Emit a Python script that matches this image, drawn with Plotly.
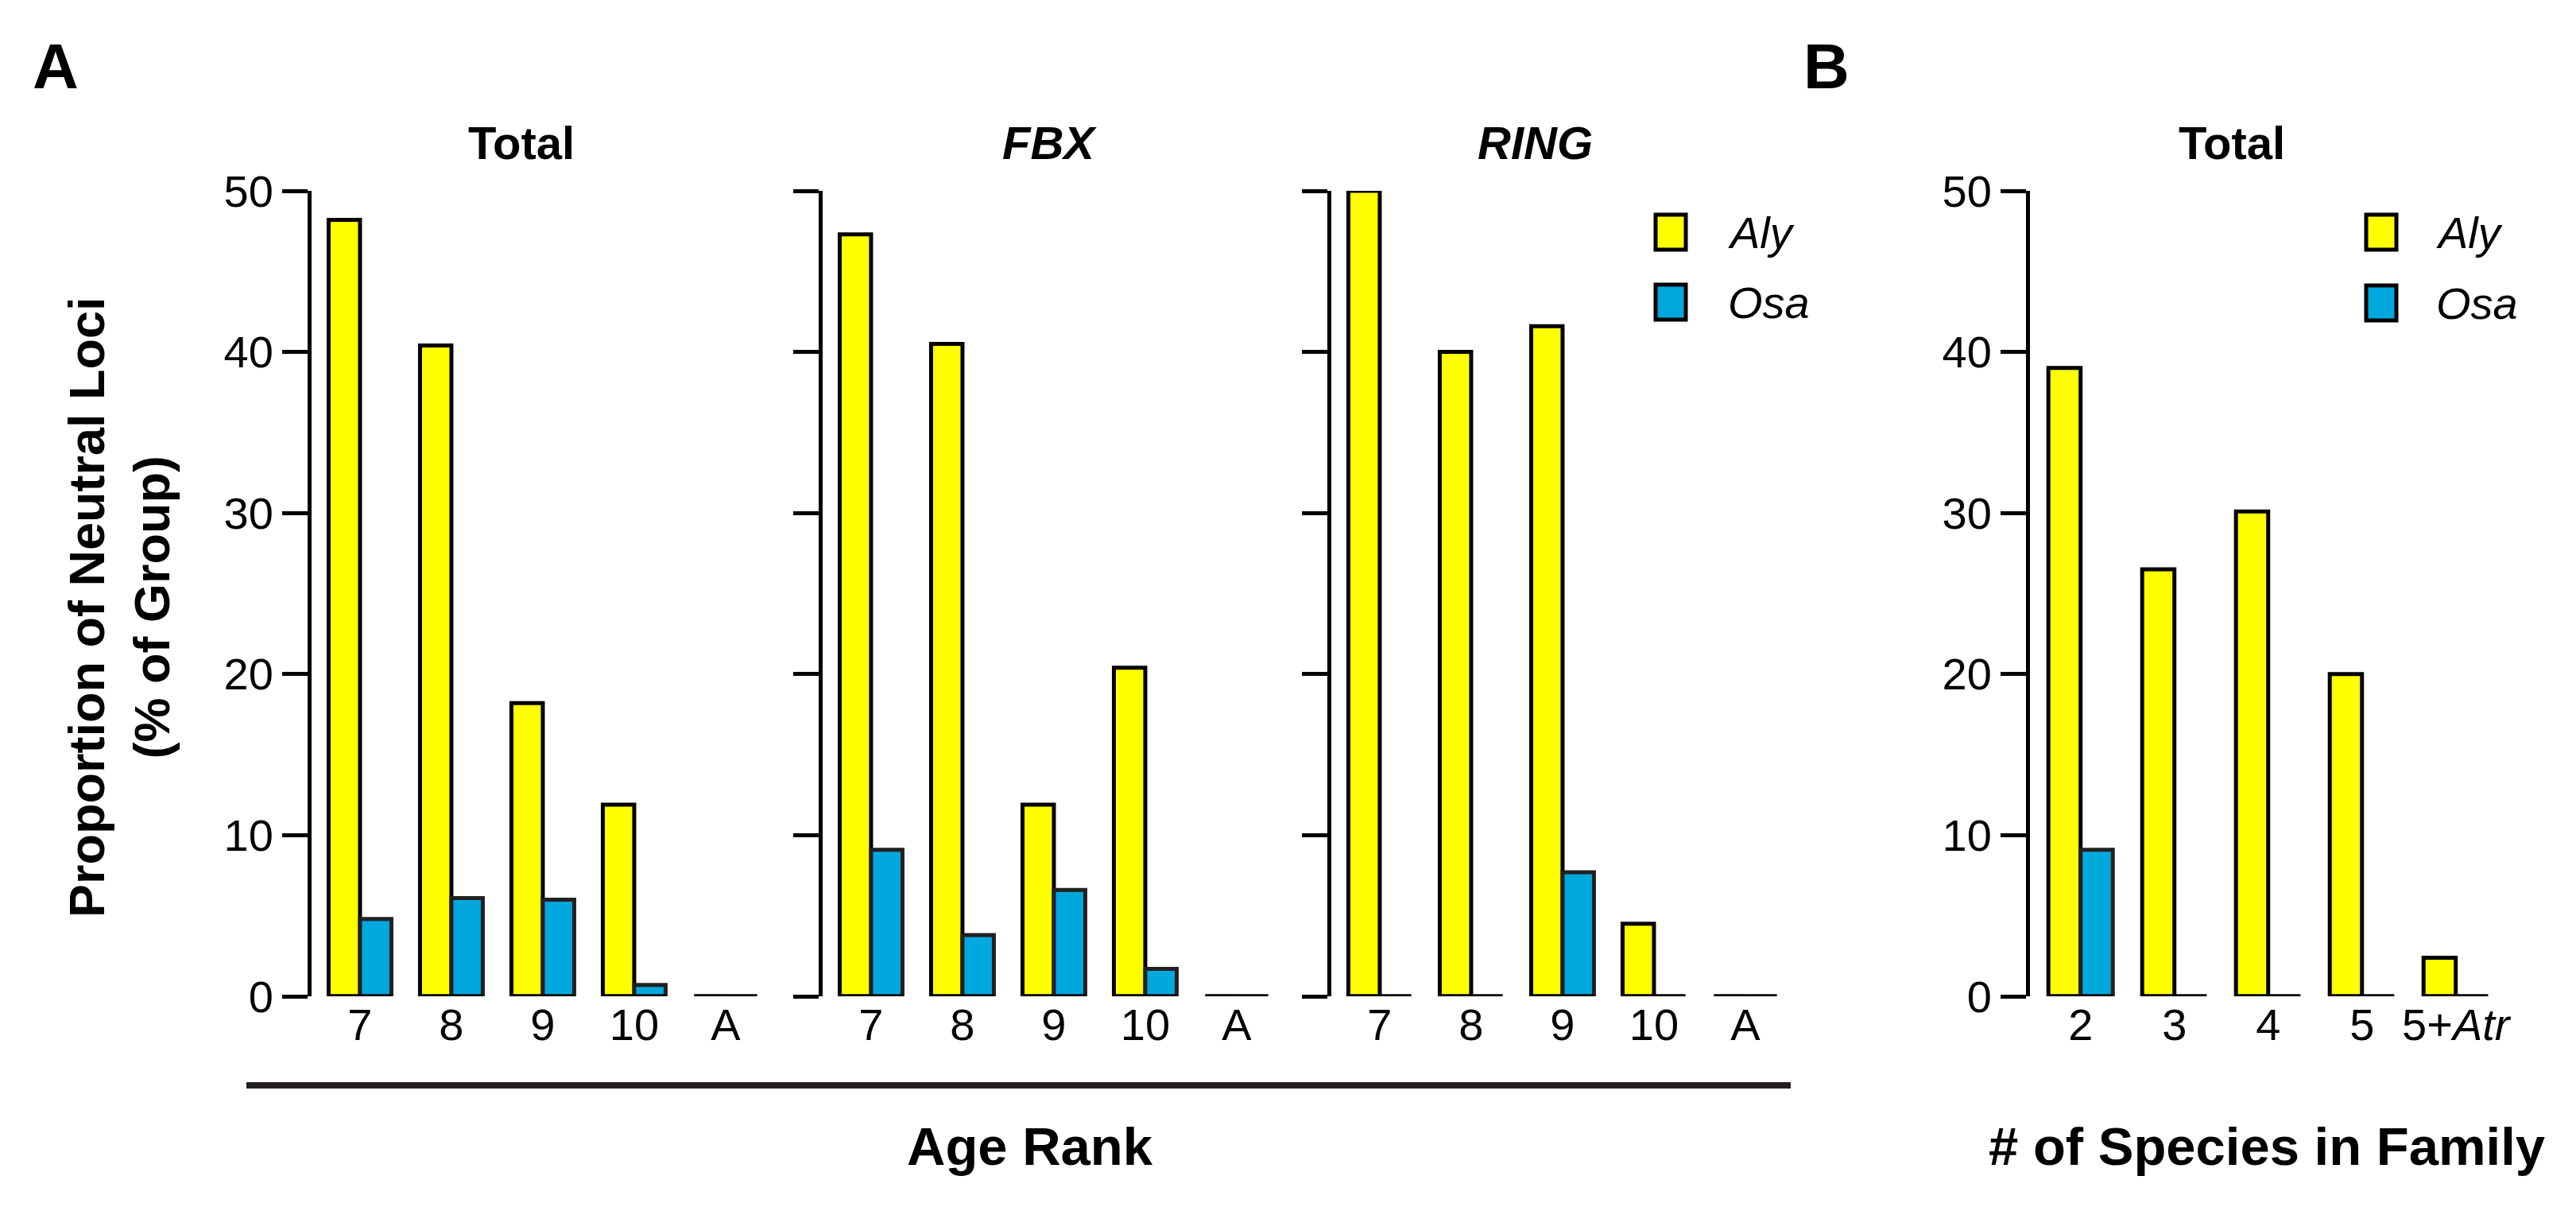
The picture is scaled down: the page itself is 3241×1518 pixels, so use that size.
import plotly.graph_objects as go

# ---------------- data ----------------
age_ranks = ["7", "8", "9", "10", "A"]
total_aly = [48.2, 40.4, 18.2, 11.9, 0]
total_osa = [4.8, 6.1, 6.0, 0.7, 0]
fbx_aly = [47.3, 40.5, 11.9, 20.4, 0]
fbx_osa = [9.1, 3.8, 6.6, 1.7, 0]
ring_aly = [50.0, 40.0, 41.6, 4.5, 0]
ring_osa = [0, 0, 7.7, 0, 0]

species_cats = ["2", "3", "4", "5", "5+<i>Atr</i>"]
species_aly = [39.0, 26.5, 30.1, 20.0, 2.4]
species_osa = [9.1, 0, 0, 0, 0]

y_ticks = [0, 10, 20, 30, 40, 50]

# ---------------- style ----------------
W, H = 3241, 1518
OFF = 8  # page body margin offset
YELLOW = "#FFFF00"
BLUE = "#00A8DE"
DARK = "#231F20"
FONT = "Liberation Sans, Arial, Helvetica, sans-serif"
LW = 5
BARGAP = 0.313
TICKSIZE = 56


def px(x):
    return (x - OFF) / W


def py(y):
    return 1 - (y - OFF) / H


y_dom = [py(1253), py(240)]

panels = [
    ("", age_ranks, total_aly, total_osa, 392, 115, [-0.53, 4.42], "<b>Total</b>", 656, True),
    ("2", age_ranks, fbx_aly, fbx_osa, 1035, 115, [-0.53, 4.42], "<b><i>FBX</i></b>", 1320, False),
    ("3", age_ranks, ring_aly, ring_osa, 1675, 115, [-0.53, 4.42], "<b><i>RING</i></b>", 1931, False),
    ("4", species_cats, species_aly, species_osa, 2554, 118, [-0.54, 4.45], "<b>Total</b>", 2808, True),
]

fig = go.Figure()
layout = dict(
    width=W, height=H,
    margin=dict(l=0, r=0, t=0, b=0, autoexpand=False),
    paper_bgcolor="white", plot_bgcolor="white",
    barmode="group", bargap=BARGAP, bargroupgap=0,
    showlegend=False,
    font=dict(family=FONT, color="black", size=TICKSIZE),
)

annotations = []
shapes = []

half = (1 - BARGAP) / 2
for suf, cats, aly, osa, left, ppu, rng, title, tx, show_y in panels:
    xa = "x" + suf
    ya = "y" + suf
    pos = list(range(len(cats)))
    fig.add_trace(go.Bar(x=pos, y=aly, xaxis=xa, yaxis=ya, name="Aly",
                         marker=dict(color=YELLOW, line=dict(color="black", width=LW)),
                         cliponaxis=False))
    fig.add_trace(go.Bar(x=pos, y=osa, xaxis=xa, yaxis=ya, name="Osa",
                         marker=dict(color=BLUE, line=dict(color=DARK, width=LW)),
                         cliponaxis=False))
    bx, by = [], []
    for p in pos:
        bx += [p - half, p + half, None]
        by += [0, 0, None]
    fig.add_trace(go.Scatter(x=bx, y=by, xaxis=xa, yaxis=ya, mode="lines",
                             line=dict(color="black", width=LW), cliponaxis=False,
                             hoverinfo="skip"))

    width_px = (rng[1] - rng[0]) * ppu
    layout["xaxis" + suf] = dict(
        domain=[px(left), px(left + width_px)], range=rng, anchor=ya,
        tickvals=pos, ticktext=cats, showline=False, showgrid=False, zeroline=False,
        ticks="", tickfont=dict(size=TICKSIZE, family=FONT, color="black"),
        ticklabelstandoff=-2, automargin=False,
    )
    layout["yaxis" + suf] = dict(
        domain=y_dom, range=[0, 50], anchor=xa,
        tickvals=y_ticks, showticklabels=show_y,
        showline=True, linecolor="black", linewidth=LW,
        ticks="outside", ticklen=32, tickwidth=LW, tickcolor="black",
        showgrid=False, zeroline=False, automargin=False,
        tickfont=dict(size=TICKSIZE, family=FONT, color="black"),
    )
    annotations.append(dict(text=title, x=px(tx), y=py(179), xref="paper", yref="paper",
                            showarrow=False, xanchor="center", yanchor="middle",
                            font=dict(size=58, family=FONT, color="black")))

annotations.append(dict(text="<b>A</b>", x=px(70), y=py(83), xref="paper", yref="paper",
                        showarrow=False, xanchor="center", yanchor="middle",
                        font=dict(size=80, family=FONT, color="black")))
annotations.append(dict(text="<b>B</b>", x=px(2298), y=py(83), xref="paper", yref="paper",
                        showarrow=False, xanchor="center", yanchor="middle",
                        font=dict(size=80, family=FONT, color="black")))

annotations.append(dict(text="<b>Proportion of Neutral Loci<br>(% of Group)</b>",
                        x=px(150), y=py(764), xref="paper", yref="paper", textangle=-90,
                        showarrow=False, xanchor="center", yanchor="middle",
                        font=dict(size=63, family=FONT, color="black")))

annotations.append(dict(text="<b>Age Rank</b>", x=px(1296), y=py(1441), xref="paper", yref="paper",
                        showarrow=False, xanchor="center", yanchor="middle",
                        font=dict(size=67, family=FONT, color="black")))
annotations.append(dict(text="<b># of Species in Family</b>", x=px(2852), y=py(1441),
                        xref="paper", yref="paper",
                        showarrow=False, xanchor="center", yanchor="middle",
                        font=dict(size=67, family=FONT, color="black")))

shapes.append(dict(type="line", xref="paper", yref="paper",
                   x0=px(310), x1=px(2253), y0=py(1365), y1=py(1365),
                   line=dict(color=DARK, width=8)))

for (sq_x, txt_x, y1c, y2c) in [(2102, 2172, 292, 380), (2996, 3063, 292, 381)]:
    for yc, col, lab in [(y1c, YELLOW, "Aly"), (y2c, BLUE, "Osa")]:
        shapes.append(dict(type="rect", xref="paper", yref="paper",
                           x0=px(sq_x - 19), x1=px(sq_x + 19), y0=py(yc + 22), y1=py(yc - 22),
                           fillcolor=col, line=dict(color="black", width=LW)))
        annotations.append(dict(text="<i>" + lab + "</i>", x=px(txt_x), y=py(yc),
                                xref="paper", yref="paper", showarrow=False,
                                xanchor="left", yanchor="middle",
                                font=dict(size=56, family=FONT, color="black")))

layout["annotations"] = annotations
layout["shapes"] = shapes
fig.update_layout(**layout)
fig.write_html("out.html")
